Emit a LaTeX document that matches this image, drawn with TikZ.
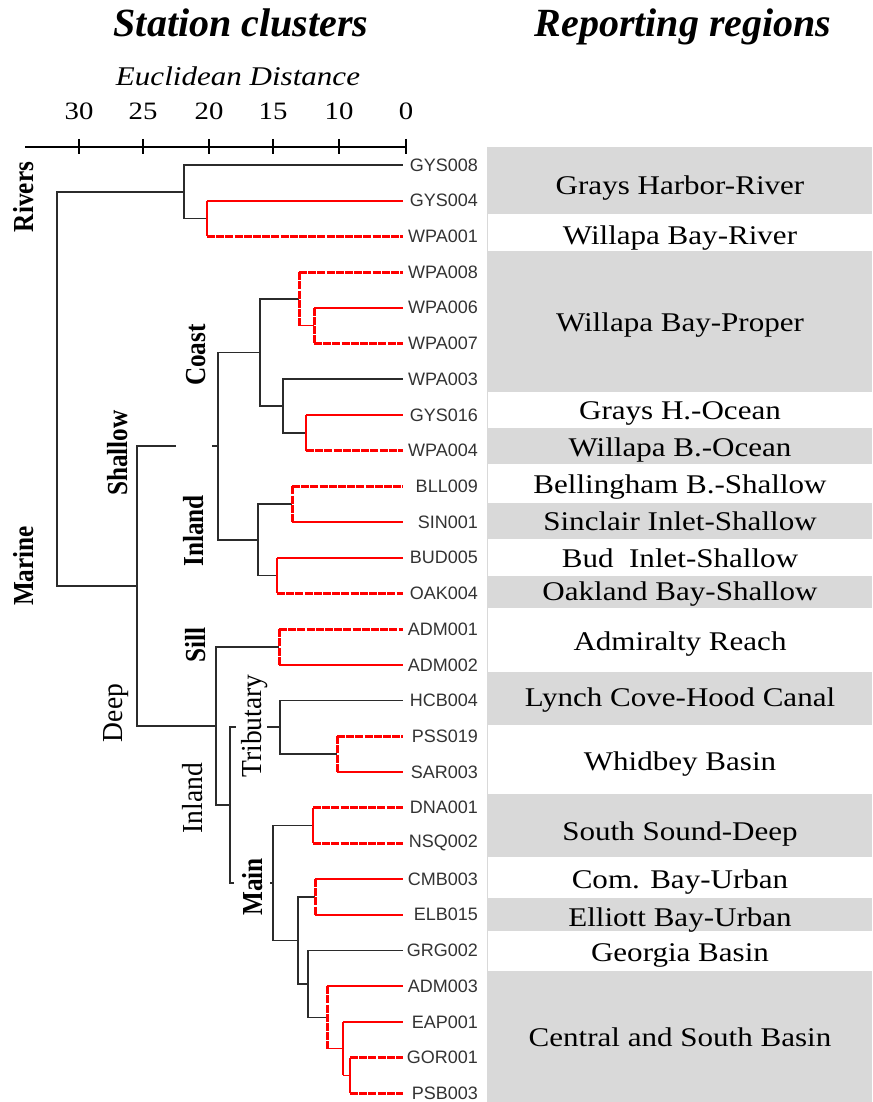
\documentclass[tikz,border=0pt]{standalone}
\usepackage{fontspec}
\setmainfont{Liberation Serif}
\newfontfamily\regf[FakeStretch=1.15]{Liberation Serif}
\newfontfamily\rotf[FakeStretch=0.87]{Liberation Serif}
\newfontfamily\rotr[FakeStretch=0.95]{Liberation Serif}
\newfontfamily\leaff{Liberation Sans}
\definecolor{bandgray}{HTML}{D9D9D9}
\definecolor{linegray}{HTML}{2B2B2B}
\definecolor{leafgray}{HTML}{333333}
\tikzset{
  blk/.style={draw=linegray, line width=1.7pt},
  rthin/.style={draw=red, line width=1.6pt},
  rthick/.style={draw=red, line width=2.8pt},
  rdash/.style={draw=red, line width=3pt, dash pattern=on 8pt off 1.2pt},
  leaflab/.style={anchor=east, inner sep=0pt, text=leafgray, font=\leaff\fontsize{18}{19}\selectfont},
  region/.style={anchor=base, inner sep=0pt, font=\regf\fontsize{27}{30}\selectfont},
  clus/.style={rotate=90, anchor=base, inner sep=0pt, font=\rotf\bfseries\fontsize{29}{30}\selectfont},
  clusr/.style={rotate=90, anchor=base, inner sep=0pt, font=\rotr\fontsize{29}{30}\selectfont},
  ticklab/.style={anchor=base, inner sep=0pt, font=\regf\fontsize{25}{26}\selectfont},
  titlelab/.style={anchor=base, inner sep=0pt, font=\bfseries\itshape\fontsize{40}{44}\selectfont},
  band/.style={fill=bandgray, draw=none},
  axline/.style={draw=black, line width=1.6pt}
}
\begin{document}
\begin{tikzpicture}[x=1pt, y=-1pt]
\useasboundingbox (0,0) rectangle (872,1102);
% ---- reporting-region bands ----
\fill[band] (487,147) rectangle (872,214);
\fill[band] (487,251) rectangle (872,392);
\fill[band] (487,428) rectangle (872,464);
\fill[band] (487,503) rectangle (872,539);
\fill[band] (487,576) rectangle (872,608);
\fill[band] (487,672) rectangle (872,725);
\fill[band] (487,794) rectangle (872,857);
\fill[band] (487,898) rectangle (872,931);
\fill[band] (487,971) rectangle (872,1102);
\draw[draw=bandgray, line width=1.5pt] (487.7,147) -- (487.7,1102);
% ---- titles ----
\node[titlelab] (t1) at (241,37) {Station clusters};
\node[titlelab] (t2) at (683,37) {Reporting regions};
\node[anchor=base, inner sep=0pt, font=\regf\itshape\fontsize{27}{30}\selectfont] (xlab) at (238,86) {Euclidean Distance};
% ---- axis ----
\coordinate (axL) at (25,147);
\coordinate (axR) at (406,147);
\draw[axline] (axL) -- (axR);
\foreach \tx/\tl in {79/30,143/25,209/20,273/15,339/10,406/0}{
  \draw[axline] (\tx,139) -- (\tx,154);
  \node[ticklab] (tk\tl) at (\tx,120) {\tl};
}
% ---- leaves ----
\foreach \n [count=\i from 0] in {GYS008,GYS004,WPA001,WPA008,WPA006,WPA007,WPA003,GYS016,WPA004,BLL009,SIN001,BUD005,OAK004,ADM001,ADM002,HCB004,PSS019,SAR003,DNA001,NSQ002,CMB003,ELB015,GRG002,ADM003,EAP001,GOR001,PSB003}{
  \coordinate (\n e) at (403,{165+35.7*\i});
  \node[leaflab] (\n) at (478,{165+35.7*\i}) {\n};
}
% ---- junctions ----
\coordinate (root) at (57,388.9);
\coordinate (jR) at (184,191.8);
\coordinate (jA) at (207,218.55);
\coordinate (jMar) at (137,586.08);
\coordinate (jS) at (218,446.14);
\coordinate (g1) at (176,446.14);
\coordinate (g2) at (212,446.14);
\coordinate (jC) at (260,352.425);
\coordinate (jW8) at (299,298.875);
\coordinate (jW67) at (314,325.65);
\coordinate (jW3) at (283,405.975);
\coordinate (jGW) at (306,432.75);
\coordinate (jIS) at (258,539.85);
\coordinate (jBS) at (292,504.15);
\coordinate (jBO) at (277,575.55);
\coordinate (jD) at (216,726.02);
\coordinate (jSill) at (279,646.95);
\coordinate (jID) at (230,805.09);
\coordinate (g3) at (236,727.275);
\coordinate (g4) at (267,727.275);
\coordinate (jT) at (280,727.275);
\coordinate (jPS) at (337,754.05);
\coordinate (g5) at (234,882.9);
\coordinate (g6) at (270,882.9);
\coordinate (jMain) at (273,882.9);
\coordinate (jDN) at (313,825.45);
\coordinate (jX) at (298,940.36);
\coordinate (jCM) at (315,896.85);
\coordinate (jGR) at (308,983.87);
\coordinate (jAD) at (327,1017.34);
\coordinate (jEA) at (343,1048.575);
\coordinate (jGP) at (350,1075.35);
% ---- black branches ----
\draw[blk] (root) |- (jR);
\draw[blk] (root) |- (jMar);
\draw[blk] (jR) |- (GYS008e);
\draw[blk] (jR) |- (jA);
\draw[blk] (jMar) |- (g1);
\draw[blk] (g2) -- (jS);
\draw[blk] (jMar) |- (jD);
\draw[blk] (jS) |- (jC);
\draw[blk] (jS) |- (jIS);
\draw[blk] (jC) |- (jW8);
\draw[blk] (jC) |- (jW3);
\draw[blk] (jW3) |- (WPA003e);
\draw[blk] (jW3) |- (jGW);
\draw[blk] (jIS) |- (jBS);
\draw[blk] (jIS) |- (jBO);
\draw[blk] (jD) |- (jSill);
\draw[blk] (jD) |- (jID);
\draw[blk] (jID) |- (g3);
\draw[blk] (g4) -- (jT);
\draw[blk] (jID) |- (g5);
\draw[blk] (g6) -- (jMain);
\draw[blk] (jT) |- (HCB004e);
\draw[blk] (jT) |- (jPS);
\draw[blk] (jMain) |- (jDN);
\draw[blk] (jMain) |- (jX);
\draw[blk] (jX) |- (jCM);
\draw[blk] (jX) |- (jGR);
\draw[blk] (jGR) |- (GRG002e);
\draw[blk] (jGR) |- (jAD);
% ---- red branches ----
\draw[rthin] (jA |- GYS004e) -- (jA |- WPA001e);
\draw[rthin] (jA |- GYS004e) -- (GYS004e);
\draw[rdash] (jA |- WPA001e) -- (WPA001e);
\draw[rdash] (jW8 |- WPA008e) -- (jW8 |- jW67);
\draw[rdash] (jW8 |- WPA008e) -- (WPA008e);
\draw[rthin] (jW8 |- jW67) -- (jW67);
\draw[rdash] (jW67 |- WPA006e) -- (jW67 |- WPA007e);
\draw[rthin] (jW67 |- WPA006e) -- (WPA006e);
\draw[rdash] (jW67 |- WPA007e) -- (WPA007e);
\draw[rthin] (jGW |- GYS016e) -- (jGW |- WPA004e);
\draw[rthin] (jGW |- GYS016e) -- (GYS016e);
\draw[rdash] (jGW |- WPA004e) -- (WPA004e);
\draw[rdash] (jBS |- BLL009e) -- (jBS |- SIN001e);
\draw[rdash] (jBS |- BLL009e) -- (BLL009e);
\draw[rthin] (jBS |- SIN001e) -- (SIN001e);
\draw[rthin] (jBO |- BUD005e) -- (jBO |- OAK004e);
\draw[rthin] (jBO |- BUD005e) -- (BUD005e);
\draw[rdash] (jBO |- OAK004e) -- (OAK004e);
\draw[rdash] (jSill |- ADM001e) -- (jSill |- ADM002e);
\draw[rdash] (jSill |- ADM001e) -- (ADM001e);
\draw[rthin] (jSill |- ADM002e) -- (ADM002e);
\draw[rdash] (jPS |- PSS019e) -- (jPS |- SAR003e);
\draw[rdash] (jPS |- PSS019e) -- (PSS019e);
\draw[rthin] (jPS |- SAR003e) -- (SAR003e);
\draw[rthick] (jDN |- DNA001e) -- (jDN |- NSQ002e);
\draw[rdash] (jDN |- DNA001e) -- (DNA001e);
\draw[rdash] (jDN |- NSQ002e) -- (NSQ002e);
\draw[rdash] (jCM |- CMB003e) -- (jCM |- ELB015e);
\draw[rthin] (jCM |- CMB003e) -- (CMB003e);
\draw[rthin] (jCM |- ELB015e) -- (ELB015e);
\draw[rdash] (jAD |- ADM003e) -- (jAD |- jEA);
\draw[rthin] (jAD |- ADM003e) -- (ADM003e);
\draw[rthin] (jAD |- jEA) -- (jEA);
\draw[rthick] (jEA |- EAP001e) -- (jEA |- jGP);
\draw[rthin] (jEA |- EAP001e) -- (EAP001e);
\draw[rthin] (jEA |- jGP) -- (jGP);
\draw[rthick] (jGP |- GOR001e) -- (jGP |- PSB003e);
\draw[rdash] (jGP |- GOR001e) -- (GOR001e);
\draw[rdash] (jGP |- PSB003e) -- (PSB003e);
% ---- cluster labels ----
\node[clus] (cRivers) at (33,197) {Rivers};
\node[clus] (cMarine) at (33,566) {Marine};
\node[clus] (cShallow) at (127,453) {Shallow};
\node[clusr] (cDeep) at (122,713) {Deep};
\node[clus] (cCoast) at (205,355) {Coast};
\node[clus] (cInlandS) at (203,531) {Inland};
\node[clus] (cSill) at (205,645) {Sill};
\node[clusr] (cInlandD) at (202,798) {Inland};
\node[clusr] (cTrib) at (261,726) {Tributary};
\node[clus] (cMain) at (262,887) {Main};
% ---- region labels ----
\node[region] (r1) at (680,194) {Grays Harbor-River};
\node[region] (r2) at (680,244) {Willapa Bay-River};
\node[region] (r3) at (680,331.7) {Willapa Bay-Proper};
\node[region] (r4) at (680,419.3) {Grays H.-Ocean};
\node[region] (r5) at (680,456.7) {Willapa B.-Ocean};
\node[region] (r6) at (680,493.3) {Bellingham B.-Shallow};
\node[region] (r7) at (680,530) {Sinclair Inlet-Shallow};
\node[region] (r8) at (680,567.3) {Bud\ \ Inlet-Shallow};
\node[region] (r9) at (680,600) {Oakland Bay-Shallow};
\node[region] (r10) at (680,650) {Admiralty Reach};
\node[region] (r11) at (680,706) {Lynch Cove-Hood Canal};
\node[region] (r12) at (680,770) {Whidbey Basin};
\node[region] (r13) at (680,840) {South Sound-Deep};
\node[region] (r14) at (680,888.3) {Com. Bay-Urban};
\node[region] (r15) at (680,926) {Elliott Bay-Urban};
\node[region] (r16) at (680,961.7) {Georgia Basin};
\node[region] (r17) at (680,1046.7) {Central and South Basin};
\end{tikzpicture}
\end{document}
